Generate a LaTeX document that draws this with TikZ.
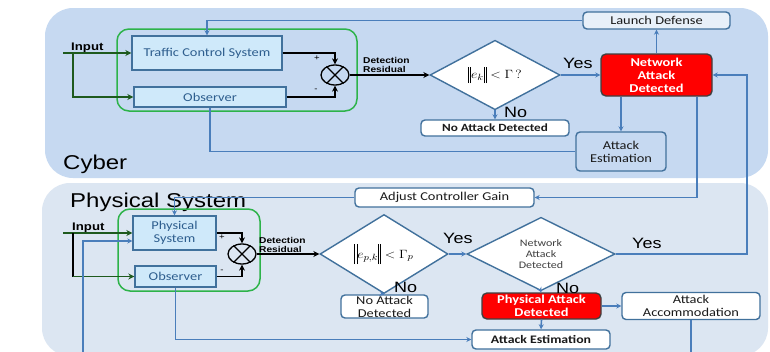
\documentclass[tikz,border=0pt]{standalone}
\usepackage[no-math]{fontspec}
\usepackage{graphicx}
\setmainfont{Carlito}[FakeStretch=1.2]
\newfontfamily\arialf{Liberation Sans}[FakeStretch=1.2]
\usetikzlibrary{shapes.geometric,arrows.meta}
\newcommand\nrmbar[2]{\mathord{\rule[#1]{0.5pt}{#2}\hspace{1.4pt}\rule[#1]{0.5pt}{#2}}}
\definecolor{panelA}{HTML}{C6D9F1}
\definecolor{panelB}{HTML}{DCE6F2}
\definecolor{bord}{HTML}{41719C}
\definecolor{cconn}{HTML}{4A7EBB}
\definecolor{cyanfill}{HTML}{CFE9FA}
\definecolor{cyantext}{HTML}{2E5E8E}
\definecolor{grn}{HTML}{2DB34A}
\definecolor{dgrn}{HTML}{1E5A1E}
\definecolor{redbox}{HTML}{FF0000}
\definecolor{txt}{HTML}{1A1A1A}
\definecolor{ttl}{HTML}{404040}
\tikzset{
  box/.style={draw=bord, line width=1.4pt, rounded corners=4pt, align=center, inner sep=0pt,
    text=txt, font=\fontsize{12}{13}\selectfont},
  cbox/.style={draw=bord, line width=1.4pt, fill=cyanfill, text=cyantext, inner sep=0pt,
    align=center, font=\fontsize{12}{13}\selectfont},
  redb/.style={box, fill=redbox, draw=ttl, text=white, rounded corners=5pt,
    font=\bfseries\fontsize{12}{13}\selectfont},
  dia/.style={diamond, draw=bord, line width=1.4pt, fill=white, inner sep=0pt, align=center},
  gbox/.style={draw=grn, line width=1.5pt, rounded corners=12pt, inner sep=0pt},
  sumnode/.style={ellipse, draw=black, line width=1.3pt, minimum width=28pt, minimum height=20pt, inner sep=0pt},
  flow/.style={draw=cconn, line width=1.6pt},
  arr/.style={flow, -{Stealth[length=5pt,width=5pt]}},
  blk/.style={draw=black, line width=1.3pt},
  barr/.style={blk, -{Stealth[length=6pt,width=6pt]}},
  garr/.style={draw=dgrn, line width=1.6pt, -{Stealth[length=6pt,width=6pt]}},
  biglab/.style={font=\arialf\fontsize{20}{22}\selectfont, text=black, inner sep=0pt, anchor=base west},
  yn/.style={font=\arialf\fontsize{15}{16}\selectfont, text=black, inner sep=0pt, anchor=base west},
  inlab/.style={font=\arialf\bfseries\fontsize{11}{12}\selectfont, text=black, inner sep=0pt, anchor=base west},
  reslab/.style={font=\arialf\bfseries\fontsize{8.5}{9}\selectfont, text=black, inner sep=0pt, anchor=west, align=left},
  pm/.style={font=\arialf\fontsize{8}{8}\selectfont, text=black, inner sep=0pt},
}
\begin{document}
\begin{tikzpicture}[x=1pt,y=-1pt]
\useasboundingbox (0,0) rectangle (770,351);
\clip (0,0) rectangle (770,351);
\fill[white] (0,0) rectangle (770,351);
% panels
\fill[panelA, rounded corners=28pt] (45,8) rectangle (768,178);
\fill[panelB, rounded corners=28pt] (42,183) rectangle (768,356);
\node[biglab] (cyb) at (63,169) {Cyber};
\node[biglab] (phs) at (70,207) {Physical System};

% ---------------- Cyber ----------------
\node[gbox, minimum width=240pt, minimum height=82pt] (g1) at (237,70) {};
\node[cbox, minimum width=150pt, minimum height=34pt] (tcs) at (207,53) {Traffic Control System};
\node[cbox, minimum width=152pt, minimum height=20pt] (obs1) at (210,97) {Observer};
\node[sumnode] (s1) at (335,75) {};
\draw[blk] (s1.45) -- (s1.225) (s1.135) -- (s1.315);
\node[dia, minimum width=130pt, minimum height=54pt] (d1) at (495,75)
  {\fontsize{13}{14}\selectfont\scalebox{1.15}[1]{$\nrmbar{-4.5pt}{16pt}e_k\nrmbar{-4.5pt}{16pt} < \Gamma\,?$}};
\node[redb, minimum width=111pt, minimum height=42pt] (nad) at (656.5,75) {Network\\Attack\\Detected};
\node[box, fill=white!60!panelA, minimum width=147pt, minimum height=17pt] (ld) at (656.5,20.5) {Launch Defense};
\node[box, fill=white, minimum width=148pt, minimum height=16pt, font=\bfseries\fontsize{11}{12}\selectfont] (nad1) at (495,128) {No Attack Detected};
\node[box, minimum width=90pt, minimum height=39pt] (ae1) at (621,151.5) {Attack\\Estimation};
\node[box, fill=white, minimum width=179pt, minimum height=19pt] (acg) at (444.5,197.5) {Adjust Controller Gain};

\node[inlab] (inp1) at (71,50) {Input};
\node[pm] (p1) at (317,58) {+};
\node[pm] (m1) at (316,90) {-};
\node[reslab] (res1) at (363,65) {Detection\\Residual};
\node[yn] (yes1) at (563,68) {Yes};
\node[yn] (no1) at (504,117) {No};

% ---------------- Physical ----------------
\node[gbox, minimum width=142pt, minimum height=82pt] (g2) at (189,250) {};
\node[cbox, minimum width=83pt, minimum height=34pt] (ps) at (174.5,233) {Physical\\System};
\node[cbox, minimum width=81pt, minimum height=21pt] (obs2) at (175.5,276.5) {Observer};
\node[sumnode] (s2) at (242,254) {};
\draw[blk] (s2.45) -- (s2.225) (s2.135) -- (s2.315);
\node[dia, minimum width=128pt, minimum height=53pt] (d2) at (384,254)
  {\fontsize{13}{14}\selectfont\scalebox{1.15}[1]{$\nrmbar{-6pt}{20pt}e_{p,k}\nrmbar{-6pt}{20pt} < \Gamma_p$}};
\node[dia, minimum width=148pt, minimum height=54pt, text=ttl, font=\fontsize{10}{11}\selectfont] (d3) at (541,254) {Network\\Attack\\Detected};
\node[box, fill=white, minimum width=87pt, minimum height=23pt] (nad2) at (384.5,306.5) {No Attack\\Detected};
\node[redb, minimum width=119pt, minimum height=26pt] (pad) at (541.5,306) {Physical Attack\\Detected};
\node[box, fill=white, minimum width=138pt, minimum height=27pt] (aa) at (691,306) {Attack\\Accommodation};
\node[box, fill=white, minimum width=138pt, minimum height=19pt, font=\bfseries\fontsize{11.5}{12}\selectfont] (ae2) at (541,339.5) {Attack Estimation};

\node[inlab] (inp2) at (72,230) {Input};
\node[pm] (p2) at (222,237) {+};
\node[pm] (m2) at (222,271) {-};
\node[reslab] (res2) at (259,245) {Detection\\Residual};
\node[yn] (yes2) at (443,243) {Yes};
\node[yn] (no2) at (394,292) {No};
\node[yn] (yes3) at (632,248) {Yes};
\node[yn] (no3) at (556,293) {No};

% ---------------- connectors: cyber ----------------
\coordinate (in1) at (63,53);
\coordinate (br1) at (73,53);
\draw[garr] (in1) -- (tcs.west);
\draw[garr] (br1) |- (obs1.west);
\draw[barr] (tcs.east) -| (s1.north);
\draw[barr] (obs1.east) -| (s1.south);
\draw[barr] (s1.east) -- (d1.west);
\draw[arr] (d1.east) -- (nad.west);
\draw[arr] (d1.south) -- (nad1.north);
\draw[arr] (nad.north) -- (ld.south);
\draw[arr] (ld.west) -| (tcs.north);
\draw[arr] (nad.south -| ae1.north) -- (ae1.north);
\draw[flow] (obs1.south) |- (ae1.west);
\draw[arr] ([xshift=40.5pt]nad.south) |- (acg.east);
\draw[arr] (acg.west) -| (ps.north);
\coordinate (rr) at (747,254);
\draw[arr] (d3.east) -- (rr) |- (nad.east);

% ---------------- connectors: physical ----------------
\coordinate (in2) at (63,233);
\coordinate (br2) at (73,233);
\draw[garr] (in2) -- (ps.west);
\draw[black, line width=2.2pt] (br2) -- (br2 |- obs2.west);
\draw[garr] (br2 |- obs2.west) -- (obs2.west);
\draw[barr] (ps.east) -| (s2.north);
\draw[barr] (obs2.east) -| (s2.south);
\draw[barr] (s2.east) -- (d2.west);
\draw[arr] (d2.east) -- (d3.west);
\draw[arr] (d2.south) -- (nad2.north);
\draw[arr] (d3.south) -- (pad.north);
\draw[arr] (pad.east) -- (aa.west);
\draw[arr] (pad.south) -- (ae2.north);
\draw[arr] (obs2.south) |- (ae2.west);
\coordinate (fb1) at (691,372);
\coordinate (fb2) at (83,241);
\draw[arr] (aa.south) -- (fb1) -| (fb2) -- (fb2 -| ps.west);
\end{tikzpicture}
\end{document}
